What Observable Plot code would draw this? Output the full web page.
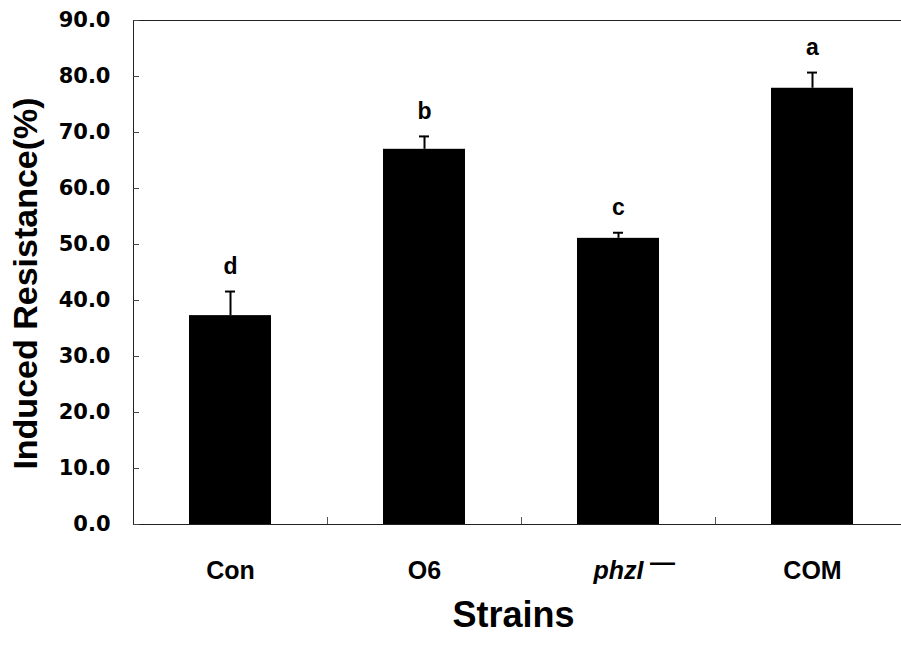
<!DOCTYPE html>
<html>
<head>
<meta charset="utf-8">
<script src="https://cdn.jsdelivr.net/npm/d3@7"></script>
<script src="https://cdn.jsdelivr.net/npm/@observablehq/plot@0.6"></script>
<style>
  html, body { margin: 0; padding: 0; background: #fff; }
</style>
</head>
<body>
<div id="chart"></div>
<script>
const strains = ["Con", "O6", "phzI", "COM"];
const resistance = [37.3, 67.0, 51.1, 77.9];
const errors = [4.3, 2.3, 1.0, 2.8];
const letters = ["d", "b", "c", "a"];
const yTicks = [0, 10, 20, 30, 40, 50, 60, 70, 80, 90];
const yTitle = "Induced Resistance(%)";
const xTitle = "Strains";

const data = strains.map((s, i) => ({
  strain: s, value: resistance[i], err: errors[i], letter: letters[i]
}));

const SANS = "Liberation Sans, Arial, Helvetica, sans-serif";

const chart = Plot.plot({
  width: 901,
  height: 650,
  marginTop: 20,
  marginBottom: 126,
  marginLeft: 133,
  marginRight: -8,
  style: { fontFamily: SANS, background: "#fff", color: "#000" },
  x: { domain: strains, padding: 0, axis: null },
  y: { domain: [0, 90], axis: null },
  marks: [
    Plot.barY(data, { x: "strain", y: "value", fill: "#000", insetLeft: 56, insetRight: 56 }),
    Plot.ruleX(data, { x: "strain", y1: "value", y2: d => d.value + d.err, stroke: "#000", strokeWidth: 2 }),
    Plot.tickY(data, { x: "strain", y: d => d.value + d.err, inset: 92, stroke: "#000", strokeWidth: 2 }),
    Plot.text(data, { x: "strain", y: d => d.value + d.err, text: "letter", dy: -25,
      fontSize: 23, fontWeight: "bold", fontFamily: SANS, fill: "#000" }),
    Plot.ruleX(strains.slice(1), { x: d => d, y1: 0, y2: 1.25, dx: -97, stroke: "#555" }),
    Plot.frame({ stroke: "#222" }),
    Plot.axisY(yTicks, { tickSize: 6, dx: 6, tickFormat: () => "", label: null, stroke: "#444" }),
    Plot.axisY(yTicks, { tickSize: 0, tickPadding: 23, tickFormat: d => d.toFixed(1), label: null,
      fontSize: 21, fontWeight: "bold", fontFamily: "DejaVu Sans, sans-serif", fill: "#000" }),
    Plot.axisX(["Con", "O6", "COM"], { tickSize: 0, tickPadding: 37, label: null,
      fontSize: 25, fontWeight: "bold", fontFamily: SANS, fill: "#000" }),
    Plot.axisX(["phzI"], { tickSize: 0, tickPadding: 37, label: null,
      fontSize: 25, fontWeight: "bold", fontStyle: "italic", fontFamily: SANS, fill: "#000" }),
    Plot.axisX(["phzI"], { tickSize: 0, tickPadding: 37, label: null, tickFormat: () => "\u2014",
      dx: 44, dy: -8, fontSize: 25, fontWeight: "bold", fontFamily: SANS, fill: "#000" }),
    Plot.text([yTitle], { frameAnchor: "left", text: d => d, rotate: -90, dx: -107, dy: 11,
      textAnchor: "middle", lineAnchor: "middle",
      fontSize: 34, fontWeight: "bold", fontFamily: SANS, fill: "#000" }),
    Plot.text([xTitle], { frameAnchor: "bottom", text: d => d, dx: -8, dy: 102,
      fontSize: 36, fontWeight: "bold", fontFamily: SANS, fill: "#000" })
  ]
});

document.getElementById("chart").appendChild(chart);
</script>
</body>
</html>
